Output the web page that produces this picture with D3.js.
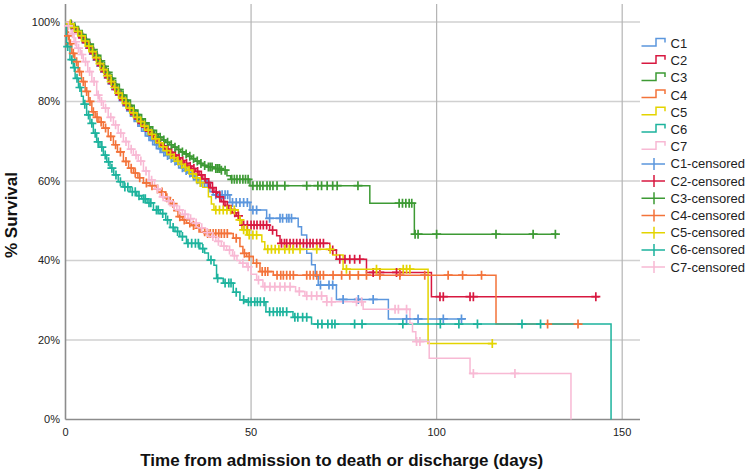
<!DOCTYPE html>
<html><head><meta charset="utf-8">
<script src="https://cdn.jsdelivr.net/npm/d3@7"></script>
<style>body{margin:0;background:#fff} svg{display:block} text{font-family:"Liberation Sans",Arial,sans-serif}</style>
</head><body><svg id="chart" width="746" height="473"></svg>
<script>
const seriesNames = ["C1","C2","C3","C4","C5","C6","C7"];
const seriesColors = ["#5b96dd","#d81840","#3d9a34","#f3733a","#e3d400","#1db39d","#f8b9d4"];
const xTicks = [0,50,100,150];
const yTicks = [0,20,40,60,80,100];

const c1Steps = [[0,100],[1,99.3],[2,98.4],[3,97.3],[4,96.1],[5,94.8],[6,93.4],[7,91.9],[8,90.4],[9,88.9],[10,87.4],[11,85.9],[12,84.4],[13,83],[14,81.6],[15,80.2],[16,78.9],[17,77.6],[18,76.3],[19,75],[20,73.8],[21,72.5],[22,71.3],[23,70.2],[24,69.1],[25,68.1],[26,67.2],[27,66.4],[28,65.7],[29,65],[30,64.2],[31,63.3],[32,62.6],[33,62],[34,61.2],[35,60.3],[36,59.6],[38.9,57.3],[39.8,56.5],[44.3,54.6],[49.7,52.7],[54.2,50.6],[62.7,48.5],[63.6,46.4],[65,41.8],[66.3,38.9],[67.3,36],[68.1,33.8],[73,30.2],[87,25.3]];
const c1End = 107.6;
const c1Censor = [1.5,2.5,3.5,4.5,5.5,6.5,7.5,8.5,9.5,10.5,11.5,12.5,13.5,14.5,15.5,16.5,17.5,18.5,19.5,20.5,21.5,22.5,23.5,24.5,25.5,26.5,27.5,28.5,29.5,30.5,31.5,32.5,33.5,34.5,35.5,36.5,37.5,38.2,40.5,41.5,42.2,43,43.7,45,46,47,48,49,50.5,51.5,55,57.8,58.5,59.6,60.2,60.9,68.7,71,72,74.8,78.9,82.9,91.9,95,101.8,106.7];

const c2Steps = [[0,100],[1,99.2],[2,98.3],[3,97.2],[4,96],[5,94.8],[6,93.4],[7,92],[8,90.5],[9,89],[10,87.5],[11,86],[12,84.5],[13,83],[14,81.7],[15,80.4],[16,79.1],[17,77.9],[18,76.7],[19,75.6],[20,74.5],[21,73.5],[22,72.5],[23,71.5],[24,70.5],[25,69.6],[26,68.8],[27,68],[28,67.2],[29,66.5],[30,65.8],[31,65.1],[32,64.4],[33,63.7],[34,63.1],[35,62.4],[36,61.5],[37,60.5],[38,59.6],[39,58.3],[40,57.2],[41,56],[42,54.8],[43,53.8],[44,52.8],[45,52],[46,51.2],[47,50.2],[47.5,48.9],[55,47.6],[56.9,46.2],[57.8,44.3],[71.2,42.6],[73,40.3],[81.1,37],[98.6,30.9]];
const c2End = 143.8;
const c2Censor = [1.6,2.6,3.6,4.6,5.6,6.6,7.6,8.6,9.6,10.6,11.6,12.6,13.6,14.6,15.6,16.6,17.6,18.6,19.6,20.6,21.6,22.6,23.6,24.6,25.6,26.6,27.6,28.6,29.6,30.6,31.6,32.6,33.6,34.6,35.6,36.6,37.6,38.6,39.6,40.6,41.6,42.6,43.6,44.6,45.6,46.6,48,49,50,50.8,51.6,52.5,53.3,54.2,55.8,58.2,59,59.6,60.5,61.4,62.3,63.2,64.1,65,65.9,66.7,67.7,68.6,69.5,72,73.9,75.3,76.6,77.9,79.3,82.9,84.7,89.2,90.1,100.9,101.8,109,109.9,142.9];

const c3Steps = [[0,100],[1,99.5],[2,98.8],[3,97.8],[4,96.8],[5,95.6],[6,94.4],[7,93],[8,91.6],[9,90.2],[10,88.8],[11,87.3],[12,85.8],[13,84.3],[14,83],[15,81.6],[16,80.3],[17,79],[18,77.8],[19,76.7],[20,75.6],[21,74.6],[22,73.6],[23,72.7],[24,71.8],[25,71],[26,70.3],[27,69.7],[28,69.1],[29,68.5],[30,67.9],[31,67.3],[32,66.8],[33,66.2],[34,65.6],[35,65],[36,64.4],[37,63.9],[38,63.5],[40,63.1],[42,62.7],[43.5,61.3],[44.5,60.4],[49.7,58.8],[82,54.4],[94,46.6]];
const c3End = 132.7;
const c3Censor = [1.5,2.5,3.5,4.5,5.5,6.5,7.5,8.5,9.5,10.5,11.5,12.5,13.5,14.5,15.5,16.5,17.5,18.5,19.5,20.5,21.5,22.5,23.5,24.5,25.5,26.5,27.5,28.5,29.5,30.5,31.5,32.5,33.5,34.5,35.5,36.5,37.5,38.5,39,39.5,40.5,41,41.5,42,43,44.8,45.5,46.2,47,47.8,48.5,49.2,50.5,51.6,52.4,53.2,54.3,55.1,55.9,57,59.1,65,68,69,70.5,72,73.2,78.8,89.9,90.8,91.7,92.6,93.3,94.2,95,100,116,126,132];

const c4Steps = [[0,100],[0.5,96.5],[1,94.5],[1.7,92.1],[2.5,90],[3.4,87.5],[4.3,85],[5.3,82.5],[6.2,80],[7.1,77.4],[8,76],[9,74.8],[10.2,73.3],[11.5,71.2],[12.9,69.1],[14,67.3],[15.6,64.9],[17,63.2],[18.3,62],[19.5,60.8],[21,59.5],[22.8,58.8],[24.5,58],[25.8,57.2],[27,55.8],[28.2,54.3],[29.2,52.5],[30.3,51],[31.5,50.2],[32.6,49.4],[34,48.8],[35.3,48.1],[36.5,47.2],[38,46.8],[45.2,45.6],[47,43.5],[47.8,41.8],[48.8,41],[50.6,39.3],[52.4,37.2],[56,36.3],[116,24]];
const c4End = 138.8;
const c4Censor = [0.8,1.3,2.1,3,3.8,4.8,5.7,6.6,7.5,8.5,9.6,10.8,12.2,13.5,14.8,16.3,17.7,18.8,20,21.8,23.3,24.8,26,27.3,29,30.8,32,33.5,34.5,36,37.5,38.3,39,39.8,40.5,41.3,42,42.8,43.6,46,48.2,49.5,51.5,53,53.8,54.5,57,58,58.7,59.6,60.5,61.4,65,65.9,66.8,67.7,68.6,69.5,72.1,74.4,76.6,78.9,81.1,84.7,90.1,96.8,103.1,107,112.1,129.9,138.1];

const c5Steps = [[0,100],[1,99.5],[2,98.6],[3,97.6],[4,96.5],[5,95.2],[6,93.9],[7,92.5],[8,91],[9,89.5],[10,88],[11,86.5],[12,85],[13,83.5],[14,82.1],[15,80.8],[16,79.5],[17,78.3],[18,77.1],[19,76],[20,74.9],[21,73.8],[22,72.8],[23,71.7],[24,70.6],[25,69.6],[26,68.6],[27,67.6],[28,66.6],[29,65.8],[30,65],[31,64.2],[32,63.4],[33,62.7],[34,61.8],[35,60.8],[36,59.6],[37,58.4],[38.5,56],[39.3,54.2],[40,52.7],[46.5,50.2],[47.5,47.7],[49,46.4],[52.9,44.7],[53.7,42.8],[72,41.4],[74.8,37.8],[97.7,19.1]];
const c5End = 115.1;
const c5Censor = [1.3,2.3,3.3,4.3,5.3,6.3,7.3,8.3,9.3,10.3,11.3,12.3,13.3,14.3,15.3,16.3,17.3,18.3,19.3,20.3,21.3,22.3,23.3,24.3,25.3,26.3,27.3,28.3,29.3,30.3,31.3,32.3,33.3,34.3,35.3,36.3,40.5,41.5,42.5,43.5,44.5,45.5,47,48,48.8,49.5,50.5,51.5,54.5,55.5,56.5,57.5,59.1,60.3,61.3,63.2,67.7,71.3,75.7,83.8,91,91.9,92.8,115];

const c6Steps = [[0,100],[0.3,93.8],[1.2,90.5],[2.1,88.5],[2.6,85.8],[3.5,83.5],[4.3,81.3],[4.8,79.3],[5.7,76.6],[6.6,74.5],[7.5,72],[8.4,69.8],[9.3,68.5],[10.2,66.5],[11.1,64.8],[12,63.2],[13,61.5],[14.2,59.8],[15.5,58.5],[17.4,57.3],[19.2,56.3],[20.5,55.5],[22,54.5],[23.7,52.7],[25.5,51.8],[27,50.2],[28.2,48.3],[29.5,47.3],[30.8,46],[32.6,44.3],[36.2,43],[37.5,41.9],[38.5,40.1],[40,38.8],[40.7,35.5],[42.5,34.3],[45.2,32],[47,30.1],[48.8,29.6],[54,27.1],[61.3,25.7],[66.3,24],[147,0]];
const c6End = 147;
const c6Censor = [0.6,1.7,2.4,3.1,3.9,5.2,6.2,7.1,8,8.8,9.8,10.7,11.6,12.5,13.6,14.8,16,16.8,18,18.8,19.8,21,21.5,22.5,23,24.5,25,26.2,27.5,29,30.2,31.5,33,34,35,35.8,37,39.2,41,43,44,44.6,46,48,49.3,50,51,51.7,52.5,53.5,55,56,57,57.8,58.6,59.6,61.8,62.6,63.9,65,68,69.1,70.7,71.8,72.6,77.9,79.9,90.9,101,106,111,123,128];

const c7Steps = [[0,100],[0.5,99],[1.5,97],[2.3,95],[3,93.4],[4,91.8],[4.8,90],[6,87.5],[7.1,85],[8.4,81.6],[9.2,80],[10.2,78.3],[11.5,76],[12.9,74.1],[14.2,72],[15.6,69.9],[17,68],[18.3,66.5],[19.6,65],[21,62.5],[22.5,60.2],[24,58],[25.5,56],[27,55],[28.5,53.8],[30,52.7],[31.5,51.6],[33,50.5],[34.4,49.4],[36,48.2],[37.5,47],[38.9,46],[40.5,44.8],[42,43.6],[43.4,42.6],[45,41.2],[46.2,40],[47,39.3],[48.8,38.4],[50,36.5],[51.5,35.1],[53.2,33.4],[62,32.2],[64.5,31.1],[70.4,29.6],[80.2,27.7],[92.8,24.2],[93.5,22.1],[94.4,19.6],[98,15.4],[109,11.6],[136.2,0]];
const c7End = 136.2;
const c7Censor = [0.8,1.9,2.7,3.5,4.4,5.4,6.5,7.7,8.8,9.7,10.8,12.2,13.5,14.9,16.3,17.7,19,20.3,21.7,23.2,24.8,26.3,27.8,29.2,30.7,32.2,33.7,35.2,36.7,38.2,39.7,41.2,42.7,44.2,45.5,47.8,49.2,52,53.7,55.1,56.4,57.8,59.1,60.5,63,65,66.3,67.7,69,70.4,71.7,78.4,79.8,88.8,89.7,91.9,94.6,95.5,109.9,121.1];

const legendLabels = ["C1","C2","C3","C4","C5","C6","C7","C1-censored","C2-censored","C3-censored","C4-censored","C5-censored","C6-censored","C7-censored"];

const series = [
  {steps:c1Steps,end:c1End,censor:c1Censor},
  {steps:c2Steps,end:c2End,censor:c2Censor},
  {steps:c3Steps,end:c3End,censor:c3Censor},
  {steps:c4Steps,end:c4End,censor:c4Censor},
  {steps:c5Steps,end:c5End,censor:c5Censor},
  {steps:c6Steps,end:c6End,censor:c6Censor},
  {steps:c7Steps,end:c7End,censor:c7Censor}
].map((s,i)=>({...s,name:seriesNames[i],color:seriesColors[i]}));

const svg = d3.select("#chart");
const x = d3.scaleLinear().domain([0,154.8]).range([65.5,640]);
const y = d3.scaleLinear().domain([0,104.5]).range([419.5,4]);

svg.append("g").selectAll("line").data(yTicks.filter(d=>d>0)).join("line")
  .attr("x1",x(0)).attr("x2",x(154.8)).attr("y1",d=>y(d)).attr("y2",d=>y(d))
  .attr("stroke","#d0d0d0").attr("stroke-width",1.5);
svg.append("g").selectAll("line").data(xTicks.filter(d=>d>0)).join("line")
  .attr("x1",d=>x(d)).attr("x2",d=>x(d)).attr("y1",y(0)).attr("y2",y(104.5))
  .attr("stroke","#b4b4b4").attr("stroke-width",1.2);

svg.append("line").attr("x1",x(0)).attr("x2",x(0)).attr("y1",y(0)).attr("y2",y(104.5)).attr("stroke","#8c8c8c").attr("stroke-width",1.6);
svg.append("line").attr("x1",x(0)).attr("x2",x(154.8)).attr("y1",y(0)).attr("y2",y(0)).attr("stroke","#8c8c8c").attr("stroke-width",1.6);

svg.append("g").selectAll("text").data(yTicks).join("text")
  .attr("x",60).attr("y",d=>y(d)).attr("dy","0.35em").attr("text-anchor","end")
  .attr("font-size",11).attr("fill","#222").text(d=>d+"%");
svg.append("g").selectAll("text").data(xTicks).join("text")
  .attr("x",d=>x(d)).attr("y",436).attr("text-anchor","middle")
  .attr("font-size",11).attr("fill","#222").text(d=>d);

svg.append("text").attr("x",(x(0)+x(154.8))/2-11).attr("y",466).attr("text-anchor","middle")
  .attr("font-size",17).attr("font-weight","bold").attr("fill","#111")
  .text("Time from admission to death or discharge (days)");
svg.append("text").attr("transform","translate(17,215) rotate(-90)").attr("text-anchor","middle")
  .attr("font-size",17).attr("font-weight","bold").attr("fill","#111").text("% Survival");

const line = d3.line().x(d=>x(d[0])).y(d=>y(d[1])).curve(d3.curveStepAfter);
function pts(s){
  const last = s.steps[s.steps.length-1];
  return s.end > last[0] ? s.steps.concat([[s.end,last[1]]]) : s.steps;
}
function survAt(s,t){
  let v = s.steps[0][1];
  for(const p of s.steps){ if(p[0]<=t) v=p[1]; else break; }
  return v;
}

const gLines = svg.append("g");
series.forEach(s=>{
  gLines.append("path").attr("d",line(pts(s))).attr("fill","none")
    .attr("stroke",s.color).attr("stroke-width",1.5);
});
const gCens = svg.append("g");
series.forEach(s=>{
  gCens.append("path").attr("fill","none").attr("stroke",s.color).attr("stroke-width",1.7)
    .attr("d",s.censor.map(t=>{const px=x(t),py=y(survAt(s,t));return `M${px-4.5},${py}h9M${px},${py-4.5}v9`;}).join(""));
});

const lg = svg.append("g");
legendLabels.forEach((lab,i)=>{
  const c = 43.5 + i*17.2;
  const col = seriesColors[i%7];
  if(i<7){
    lg.append("path").attr("d",`M641.5,${c+2.5}H656V${c-5}H665V${c-1}`).attr("fill","none").attr("stroke",col).attr("stroke-width",1.5);
  } else {
    lg.append("path").attr("d",`M641.5,${c}H665M654,${c-6}V${c+6}`).attr("fill","none").attr("stroke",col).attr("stroke-width",1.5);
  }
  lg.append("text").attr("x",670.5).attr("y",c).attr("dy","0.35em").attr("font-size",13).attr("fill","#222").text(lab);
});
</script></body></html>
